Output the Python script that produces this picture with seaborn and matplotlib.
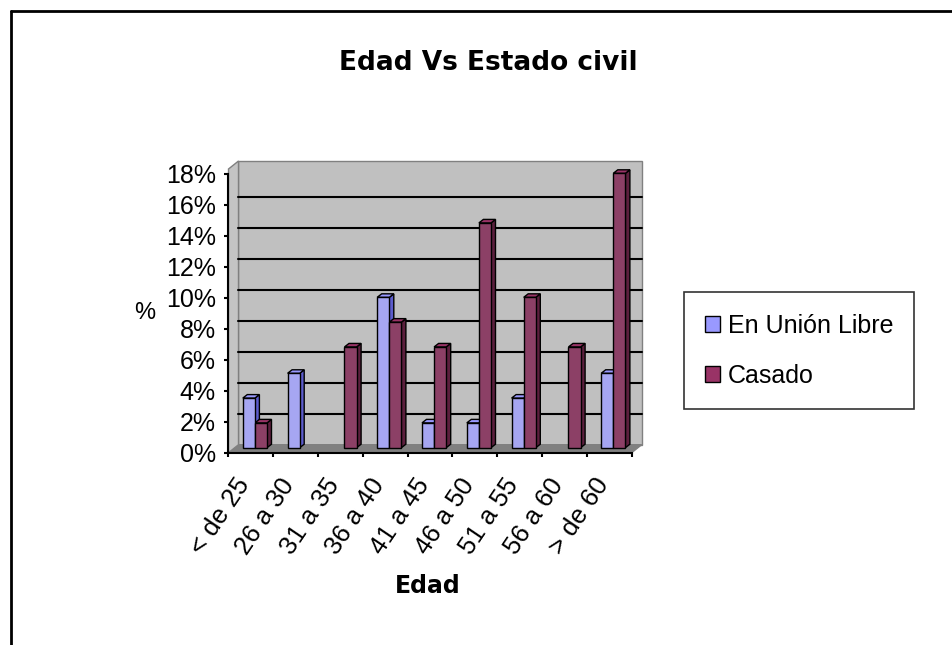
import matplotlib
matplotlib.use("Agg")
import matplotlib.pyplot as plt
import matplotlib.transforms as mtransforms
from matplotlib.patches import Polygon, Rectangle, Patch
from matplotlib.lines import Line2D
import pandas as pd
import seaborn as sns

edades = ["< de 25", "26 a 30", "31 a 35", "36 a 40", "41 a 45",
          "46 a 50", "51 a 55", "56 a 60", "> de 60"]
union_libre = [3.2, 4.8, 0.0, 9.7, 1.6, 1.6, 3.2, 0.0, 4.8]
casado = [1.6, 0.0, 6.5, 8.1, 6.5, 14.5, 9.7, 6.5, 17.7]
series = ["En Unión Libre", "Casado"]
colores = ["#9999FF", "#993366"]
lados = ["#5C5CCC", "#5C1F3D"]
y_ticks = [0, 2, 4, 6, 8, 10, 12, 14, 16, 18]

df = pd.DataFrame({
    "Edad": edades * 2,
    "Porcentaje": union_libre + casado,
    "Estado": [series[0]] * len(edades) + [series[1]] * len(edades),
})

sns.set_style("white")
plt.rcParams["font.family"] = ["Liberation Sans", "DejaVu Sans"]
plt.rcParams["text.color"] = "black"
plt.rcParams["xtick.color"] = "black"
plt.rcParams["ytick.color"] = "black"
plt.rcParams["axes.labelcolor"] = "black"

W, H, DPI = 953, 645, 100
fig = plt.figure(figsize=(W / DPI, H / DPI), dpi=DPI)

# front axis frame, in pixels of the image
x0, x1 = 228.5, 631.7
y0, ytop = 452.7, 169.0
ax = fig.add_axes([x0 / W, (H - y0) / H, (x1 - x0) / W, (y0 - ytop) / H])
ax.patch.set_visible(False)

sns.barplot(data=df, x="Edad", y="Porcentaje", hue="Estado", order=edades,
            hue_order=series, palette=colores, width=0.54, legend=False,
            edgecolor="black", linewidth=1, ax=ax, zorder=3)

ax.set_xlim(-0.5, len(edades) - 0.5)
ax.set_ylim(0, 18.3)

ax_w = x1 - x0
ax_h = y0 - ytop
px_cat = ax_w / len(edades)
px_pct = ax_h / 18.3

# back wall, floor and side wall (3D look)
wdx, wdy = 10.0, 8.0
dxa, dya = wdx / ax_w, wdy / ax_h
ax.add_patch(Rectangle((dxa, dya), 1, 1, transform=ax.transAxes,
                       facecolor="#C0C0C0", edgecolor="#808080", lw=1,
                       zorder=0, clip_on=False))
ax.add_patch(Polygon([(0, 0), (1, 0), (1 + dxa, dya), (dxa, dya)],
                     transform=ax.transAxes, facecolor="#808080",
                     edgecolor="#808080", lw=1, zorder=1, clip_on=False))
ax.add_patch(Polygon([(0, 0), (dxa, dya), (dxa, 1 + dya), (0, 1)],
                     transform=ax.transAxes, facecolor="#C4C4C4",
                     edgecolor="#808080", lw=1, zorder=1, clip_on=False))

wall_tr = ax.get_yaxis_transform() + mtransforms.ScaledTranslation(
    wdx / DPI, wdy / DPI, fig.dpi_scale_trans)
for v in y_ticks[1:-1]:
    ax.plot([0, 1], [v, v], color="black", lw=1.5, transform=wall_tr,
            zorder=1, clip_on=False)

# bars: shift into the depth and add top / side faces
bar_tr = ax.transData + mtransforms.ScaledTranslation(
    4 / DPI, 5 / DPI, fig.dpi_scale_trans)
ddx, ddy = 4.5 / px_cat, 3.5 / px_pct
for cont, front, side in zip(ax.containers, colores, lados):
    for p in cont:
        p.set_transform(bar_tr)
        p.set_clip_on(False)
        h = p.get_height()
        if h <= 0:
            p.set_visible(False)
            continue
        bx, bw = p.get_x(), p.get_width()
        ax.add_patch(Polygon([(bx + bw, 0), (bx + bw + ddx, ddy),
                              (bx + bw + ddx, h + ddy), (bx + bw, h)],
                             transform=bar_tr, facecolor=side,
                             edgecolor="black", lw=1, zorder=2.9, clip_on=False))
        ax.add_patch(Polygon([(bx, h), (bx + bw, h), (bx + bw + ddx, h + ddy),
                              (bx + ddx, h + ddy)],
                             transform=bar_tr, facecolor=front,
                             edgecolor="black", lw=1, zorder=2.9, clip_on=False))

# axes, ticks
for s in ["top", "right"]:
    ax.spines[s].set_visible(False)
for s in ["left", "bottom"]:
    ax.spines[s].set_color("black")
    ax.spines[s].set_linewidth(1.5)
    ax.spines[s].set_zorder(4)
ax.spines["left"].set_bounds(0, 18)

ax.set_yticks(y_ticks)
ax.set_yticklabels([f"{v}%" for v in y_ticks])
ax.tick_params(axis="y", direction="out", length=3, width=1.5, pad=6,
               labelsize=18, left=True)

ax.set_xticks([i - 0.5 for i in range(len(edades) + 1)])
ax.set_xticklabels([])
ax.tick_params(axis="x", which="major", direction="out", length=3, width=1.5,
               bottom=True)
ax.set_xticks(range(len(edades)), minor=True)
ax.set_xticklabels(edades, minor=True, rotation=56, ha="right",
                   va="center", rotation_mode="anchor", fontsize=18.5)
ax.tick_params(axis="x", which="minor", length=0, pad=20)
lbl_shift = mtransforms.ScaledTranslation(-6 / DPI, 0, fig.dpi_scale_trans)
for lbl in ax.get_xticklabels(minor=True):
    lbl.set_transform(lbl.get_transform() + lbl_shift)
ax.set_xlabel("")
ax.set_ylabel("")

# texts
fig.text(488 / W, 1 - 62.5 / H, "Edad Vs Estado civil", ha="center",
         va="center", fontsize=19, fontweight="bold", family="DejaVu Sans")
fig.text(428 / W, 1 - 586 / H, "Edad", ha="center", va="center",
         fontsize=17, fontweight="bold", family="DejaVu Sans")
fig.text(144.5 / W, 1 - 313 / H, "%", ha="center", va="center", fontsize=17)

handles = [Patch(facecolor=c, edgecolor="black", lw=1) for c in colores]
leg = fig.legend(handles, series, loc="upper left",
                 bbox_to_anchor=(684 / W, 1 - 292.3 / H), fontsize=18,
                 frameon=True, fancybox=False, shadow=False,
                 handlelength=0.6, handleheight=0.6, handletextpad=0.3,
                 labelspacing=1.05, borderpad=0.85, borderaxespad=0)
leg.get_frame().set_edgecolor("black")
leg.get_frame().set_linewidth(1.2)

# outer chart border (top and left edges visible)
fig.add_artist(Line2D([11 / W, 1], [1 - 11 / H, 1 - 11 / H],
                      transform=fig.transFigure, color="black", lw=2))
fig.add_artist(Line2D([11 / W, 11 / W], [0, 1 - 11 / H],
                      transform=fig.transFigure, color="black", lw=2))

fig.savefig("out.png", dpi=DPI)
